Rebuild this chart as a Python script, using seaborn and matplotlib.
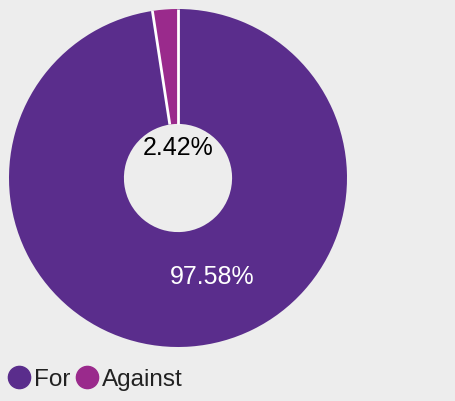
import numpy as np
import matplotlib
matplotlib.use("Agg")
import matplotlib.pyplot as plt
from matplotlib.lines import Line2D
import seaborn as sns

# Vote shares
categories = ["For", "Against"]
shares = [97.58, 2.42]
label_texts = ["97.58%", "2.42%"]

sns.set_theme(style="white")
plt.rcParams["font.family"] = ["Liberation Sans", "DejaVu Sans"]

colors = sns.color_palette(["#5a2d8c", "#9a2a8c"])
bg = "#ededed"

W, H = 456, 401
fig = plt.figure(figsize=(W / 100, H / 100), dpi=100, facecolor=bg)
ax = fig.add_axes([0, 0, 1, 1])
ax.set_facecolor(bg)

ring_width = 0.68
wedges, _ = ax.pie(
    shares,
    colors=colors,
    startangle=90,
    counterclock=False,
    radius=1.0,
    wedgeprops=dict(width=ring_width, edgecolor="none", linewidth=0),
)

# White separators only between the slices, not around the outline
for w in wedges:
    ang = np.deg2rad(w.theta1)
    r0, r1 = 1.0 - ring_width, 1.0
    ax.plot([r0 * np.cos(ang), r1 * np.cos(ang)],
            [r0 * np.sin(ang), r1 * np.sin(ang)],
            color="white", lw=2, solid_capstyle="butt")

# Percentage labels
ax.text(0.0, 0.175, label_texts[1], ha="center", va="center",
        fontsize=18, color="black")
ax.text(0.204, -0.583, label_texts[0], ha="center", va="center",
        fontsize=18, color="white")

# Donut centre at (178, 178) px from top-left, radius 169 px
r_px = 169.0
cx, cy = 178.0, 178.0
ax.set_aspect("auto")
ax.set_xlim(-cx / r_px, (W - cx) / r_px)
ax.set_ylim(-(H - cy) / r_px, cy / r_px)
ax.axis("off")

handles = [
    Line2D([0], [0], marker="o", linestyle="none", markersize=16,
           markerfacecolor=c, markeredgecolor=c)
    for c in colors
]
fig.legend(handles, categories, loc="lower left",
           bbox_to_anchor=(6.5 / W, 10 / H),
           ncol=2, frameon=False, fontsize=17.5, handletextpad=0.15,
           columnspacing=0.15, handlelength=1.0, borderpad=0.0,
           borderaxespad=0.0, labelcolor="#222222")

fig.savefig("out.png", dpi=100, facecolor=bg)
